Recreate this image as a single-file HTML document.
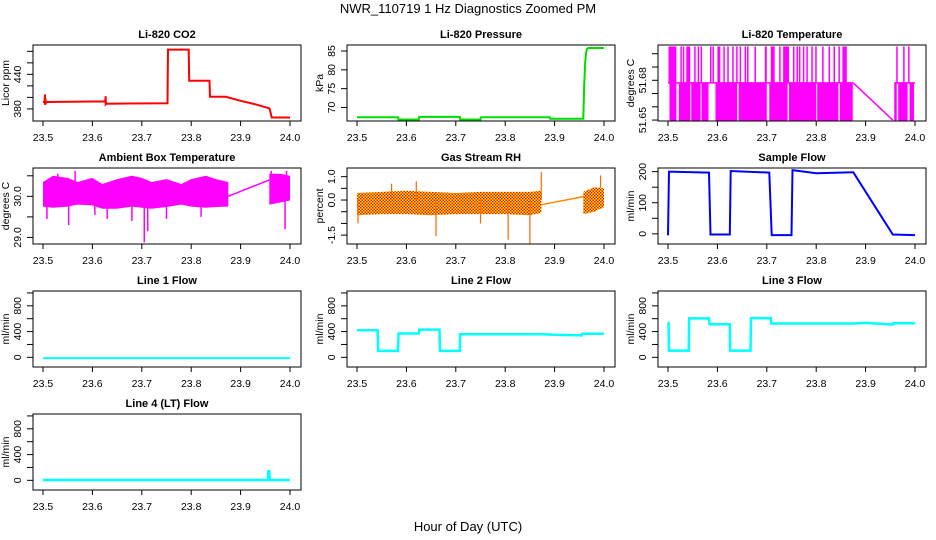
<!DOCTYPE html>
<html><head><meta charset="utf-8">
<style>
html,body{margin:0;padding:0;background:#fff;}
svg{display:block;font-family:"Liberation Sans",Arial,sans-serif;}
.tk{font-size:10.5px;fill:#000;}
.ttl{font-size:11px;font-weight:bold;fill:#000;}
</style></head>
<body>
<svg id="fig" width="936" height="540" viewBox="0 0 936 540">
<rect x="0" y="0" width="936" height="540" fill="#fff"/>
<text x="468" y="13" text-anchor="middle" font-size="13">NWR_110719  1 Hz Diagnostics Zoomed PM</text>
<text x="468" y="531" text-anchor="middle" font-size="13">Hour of Day (UTC)</text>
</svg>
<script>
// ---- shared x axis ----
const xTicks = [23.5, 23.6, 23.7, 23.8, 23.9, 24.0];
const xTickLabels = ["23.5", "23.6", "23.7", "23.8", "23.9", "24.0"];

// ---- Li-820 CO2 ----
const co2Times = [23.5, 23.503, 23.504, 23.504, 23.505, 23.505, 23.506, 23.626, 23.627, 23.627, 23.629, 23.630, 23.752, 23.753, 23.795, 23.796, 23.837, 23.838, 23.870, 23.900, 23.930, 23.958, 23.960, 23.963, 24.0];
const co2Values = [392, 392, 405, 387, 398, 388, 392, 393, 402, 388, 390, 389, 390, 483, 483, 429, 429, 401, 401, 394, 388, 381, 376, 365, 365];

// ---- Li-820 Pressure ----
const presTimes = [23.5, 23.583, 23.584, 23.625, 23.626, 23.708, 23.709, 23.750, 23.751, 23.890, 23.891, 23.958, 23.960, 23.962, 23.964, 23.966, 23.968, 24.0];
const presValues = [67.4, 67.4, 66.8, 66.8, 67.5, 67.5, 66.8, 66.8, 67.4, 67.4, 67.0, 67.0, 76.0, 82.0, 84.8, 85.6, 85.8, 85.8];

// ---- Li-820 Temperature (quantised levels) ----
const tempLevels = [51.649, 51.678, 51.7055];
const tempLowBlocks = [[23.503,23.517],[23.522,23.545],[23.547,23.566],[23.568,23.582],[23.596,23.640],[23.643,23.700],[23.705,23.742],[23.745,23.800],[23.802,23.845],[23.848,23.874],[23.958,23.963],[23.966,23.985],[23.989,23.998]];
const tempHighBlocks = [[23.501,23.517],[23.525,23.527],[23.530,23.533],[23.537,23.545],[23.553,23.556],[23.560,23.561],[23.566,23.569],[23.585,23.586],[23.590,23.592],[23.600,23.606],[23.612,23.613],[23.620,23.622],[23.630,23.633],[23.638,23.639],[23.645,23.647],[23.655,23.656],[23.660,23.663],[23.675,23.676],[23.696,23.700],[23.708,23.716],[23.725,23.728],[23.733,23.745],[23.753,23.755],[23.760,23.761],[23.765,23.768],[23.773,23.774],[23.780,23.782],[23.790,23.791],[23.798,23.800],[23.812,23.813],[23.825,23.827],[23.835,23.836],[23.845,23.848],[23.853,23.862],[23.962,23.965],[23.976,23.977],[23.986,23.988]];
const tempRampTimes = [23.875, 23.955];
const tempRampValues = [51.678, 51.650];

// ---- Ambient Box Temperature ----
const ambBandTimes = [23.5, 23.52, 23.55, 23.57, 23.6, 23.62, 23.65, 23.68, 23.7, 23.72, 23.75, 23.78, 23.8, 23.83, 23.85, 23.875];
const ambBandHigh = [30.35, 30.5, 30.45, 30.35, 30.45, 30.3, 30.42, 30.5, 30.45, 30.35, 30.42, 30.3, 30.42, 30.5, 30.42, 30.35];
const ambBandLow = [29.75, 29.72, 29.75, 29.8, 29.78, 29.7, 29.70, 29.75, 29.72, 29.7, 29.74, 29.8, 29.75, 29.72, 29.74, 29.75];
const ambSpikeTimes = [23.508, 23.552, 23.565, 23.605, 23.630, 23.680, 23.705, 23.712, 23.750, 23.820, 23.530, 23.990, 23.962, 23.993];
const ambSpikeValues = [29.45, 29.30, 30.62, 29.55, 29.45, 29.40, 28.88, 29.15, 29.45, 29.50, 30.55, 29.20, 30.62, 30.62];
const ambRampTimes = [23.875, 23.958];
const ambRampValues = [30.0, 30.40];
const amb2Times = [23.958, 23.98, 24.0];
const amb2High = [30.55, 30.55, 30.5];
const amb2Low = [29.8, 29.85, 29.9];

// ---- Gas Stream RH ----
const rhBandTimes = [23.5, 23.55, 23.6, 23.65, 23.7, 23.75, 23.8, 23.85, 23.873];
const rhBandHigh = [0.3, 0.35, 0.4, 0.35, 0.3, 0.35, 0.35, 0.35, 0.4];
const rhBandLow = [-0.65, -0.6, -0.6, -0.65, -0.6, -0.6, -0.6, -0.65, -0.55];
const rhSpikeTimes = [23.502, 23.570, 23.620, 23.660, 23.750, 23.806, 23.850, 23.873, 23.993];
const rhSpikeValues = [-1.0, 0.7, 0.8, -1.55, -1.0, -1.7, -1.9, 1.2, 1.05];
const rhRampTimes = [23.873, 23.960];
const rhRampValues = [-0.2, 0.15];
const rh2Times = [23.958, 23.98, 24.0];
const rh2High = [0.35, 0.55, 0.5];
const rh2Low = [-0.6, -0.5, -0.3];

// ---- Sample Flow ----
const sfTimes = [23.5, 23.502, 23.583, 23.586, 23.625, 23.627, 23.705, 23.710, 23.750, 23.752, 23.800, 23.875, 23.955, 24.0];
const sfValues = [-5, 200, 197, -2, -2, 202, 197, -4, -4, 205, 195, 198, -2, -4];

// ---- Line flows ----
const l1Times = [23.5, 24.0];
const l1Values = [-12, -12];
const l2Times = [23.5, 23.542, 23.543, 23.583, 23.584, 23.625, 23.626, 23.667, 23.668, 23.708, 23.709, 23.875, 23.900, 23.955, 23.956, 24.0];
const l2Values = [420, 420, 100, 100, 370, 370, 430, 430, 100, 100, 360, 360, 350, 340, 365, 365];
const l3Times = [23.5, 23.501, 23.502, 23.542, 23.543, 23.583, 23.584, 23.625, 23.626, 23.667, 23.668, 23.708, 23.709, 23.875, 23.900, 23.955, 23.956, 24.0];
const l3Values = [540, 540, 105, 105, 605, 605, 515, 515, 105, 105, 610, 610, 525, 525, 535, 510, 530, 530];
const l4Times = [23.5, 23.955, 23.956, 23.958, 23.959, 24.0];
const l4Values = [5, 5, 140, 140, 5, 5];

const flowTicks = [0, 200, 400, 600, 800, 1000];
const flowLabels = ["0", "", "400", "", "800", ""];

const svg = document.getElementById('fig');
const NS = 'http://www.w3.org/2000/svg';
function mk(tag, attrs, parent){
  const e = document.createElementNS(NS, tag);
  for (const k in attrs) e.setAttribute(k, attrs[k]);
  (parent || svg).appendChild(e);
  return e;
}

const colX = [33, 347, 658];
const rowY = [45, 168, 291, 414];
const PW = 268, PH = 76;

function makePanel(name, col, row, ymin, ymax, yTicks, yLabels, title, ylab){
  const x0 = colX[col], y0 = rowY[row];
  const g = mk('g', {});
  
  
  const xs = t => x0 + 10 + (t - 23.5) / 0.5 * (PW - 21);
  const ys = v => y0 + PH - (v - ymin) / (ymax - ymin) * PH;
  const plot = mk('g', {}, g);
  
  
  const t = mk('text', {x: x0 + PW/2, y: y0 - 7, 'text-anchor': 'middle', class: 'ttl'}, g);
  t.textContent = title;
  
  
  const xa = mk('g', {}, g);
  
  
  mk('line', {x1: xs(xTicks[0]), x2: xs(xTicks[xTicks.length-1]), y1: y0+PH, y2: y0+PH, stroke: '#000'}, xa);
  xTicks.forEach((v, i) => {
    mk('line', {x1: xs(v), x2: xs(v), y1: y0+PH, y2: y0+PH+5, stroke: '#000'}, xa);
    const l = mk('text', {x: xs(v), y: y0+PH+20, 'text-anchor': 'middle', class: 'tk'}, xa);
    l.textContent = xTickLabels[i];
  });
  const ya = mk('g', {}, g);
  
  
  yTicks.forEach((v, i) => {
    const yy = ys(v);
    mk('line', {x1: x0-6, x2: x0, y1: yy, y2: yy, stroke: '#000'}, ya);
    if (yLabels[i]) {
      const l = mk('text', {x: x0-12, y: yy, 'text-anchor': 'middle', class: 'tk', transform: `rotate(-90 ${x0-12} ${yy})`}, ya);
      l.textContent = yLabels[i];
    }
  });
  const yl = mk('text', {x: x0-24, y: y0+PH/2, 'text-anchor': 'middle', class: 'tk', transform: `rotate(-90 ${x0-24} ${y0+PH/2})`}, ya);
  yl.textContent = ylab;
  
  
  const box = mk('rect', {x: x0, y: y0, width: PW, height: PH, fill: 'none', stroke: '#000'}, g);
  
  
  return {plot, xs, ys};
}
function line(p, ts, vs, color, w, name){
  const pts = ts.map((t, i) => p.xs(t).toFixed(1) + ',' + p.ys(vs[i]).toFixed(1)).join(' ');
  const e = mk('polyline', {points: pts, fill: 'none', stroke: color, 'stroke-width': w}, p.plot);
  
  
  return e;
}
function band(p, ts, hi, lo, fill, name){
  const top = ts.map((t, i) => p.xs(t).toFixed(1) + ',' + p.ys(hi[i]).toFixed(1));
  const bot = ts.map((t, i) => p.xs(t).toFixed(1) + ',' + p.ys(lo[i]).toFixed(1)).reverse();
  const e = mk('polygon', {points: top.concat(bot).join(' '), fill: fill}, p.plot);
  
  
}
function spikes(p, ts, vs, base, color, w, name){
  ts.forEach((t, i) => {
    const e = mk('line', {x1: p.xs(t), x2: p.xs(t), y1: p.ys(base), y2: p.ys(vs[i]), stroke: color, 'stroke-width': w}, p.plot);
    
    
  });
}

const defs = mk('defs', {});
const pat = mk('pattern', {id: 'rhpat', width: 3, height: 3, patternUnits: 'userSpaceOnUse'}, defs);
mk('rect', {x: 0, y: 0, width: 3, height: 3, fill: '#ffff00'}, pat);
mk('rect', {x: 0, y: 0, width: 1.5, height: 1.5, fill: '#ff0000'}, pat);
mk('rect', {x: 1.5, y: 1.5, width: 1.5, height: 1.5, fill: '#ff0000'}, pat);

let p = makePanel('co2', 0, 0, 359, 491, [380,400,420,440,460,480], ["380","","","440","",""], 'Li-820 CO2', 'Licor ppm');
line(p, co2Times, co2Values, '#ff0000', 2, 'co2-line');

p = makePanel('pressure', 1, 0, 66.4, 86.6, [70,75,80,85], ["70","75","80","85"], 'Li-820 Pressure', 'kPa');
line(p, presTimes, presValues, '#00dd00', 2, 'pressure-line');

p = makePanel('li820-temp', 2, 0, 51.6493, 51.7066, [51.65,51.66,51.67,51.68,51.69,51.70], ["51.65","","","51.68","",""], 'Li-820 Temperature', 'degrees C');
line(p, [23.5, 23.875], [tempLevels[1], tempLevels[1]], '#ff00ff', 1.5, 'li820-temp-mid');
tempLowBlocks.forEach(b => {
  const r = mk('rect', {x: p.xs(b[0]), y: p.ys(tempLevels[1]), width: Math.max(1.5, p.xs(b[1]) - p.xs(b[0])), height: p.ys(tempLevels[0]) - p.ys(tempLevels[1]), fill: '#ff00ff'}, p.plot);
  
  
});
tempHighBlocks.forEach(b => {
  const r = mk('rect', {x: p.xs(b[0]), y: p.ys(tempLevels[2]), width: Math.max(1.5, p.xs(b[1]) - p.xs(b[0])), height: p.ys(tempLevels[1]) - p.ys(tempLevels[2]), fill: '#ff00ff'}, p.plot);
  
  
});
line(p, tempRampTimes, tempRampValues, '#ff00ff', 1.5, 'li820-temp-ramp');
line(p, [23.958, 24.0], [tempLevels[1], tempLevels[1]], '#ff00ff', 1.5, 'li820-temp-mid-2');

p = makePanel('ambient-temp', 0, 1, 28.84, 30.69, [29.0,29.5,30.0,30.5], ["29.0","","30.0",""], 'Ambient Box Temperature', 'degrees C');
band(p, ambBandTimes, ambBandHigh, ambBandLow, '#ff00ff', 'ambient-temp-band');
spikes(p, ambSpikeTimes, ambSpikeValues, 30.0, '#ff00ff', 1.5, 'ambient-temp-spike');
line(p, ambRampTimes, ambRampValues, '#ff00ff', 1.5, 'ambient-temp-ramp');
band(p, amb2Times, amb2High, amb2Low, '#ff00ff', 'ambient-temp-band-2');

p = makePanel('gas-rh', 1, 1, -1.88, 1.37, [-1.5,-1.0,-0.5,0.0,0.5,1.0], ["-1.5","","","0.0","","1.0"], 'Gas Stream RH', 'percent');
band(p, rhBandTimes, rhBandHigh, rhBandLow, 'url(#rhpat)', 'gas-rh-band');
spikes(p, rhSpikeTimes, rhSpikeValues, 0.0, '#ff6600', 1.2, 'gas-rh-spike');
line(p, rhRampTimes, rhRampValues, '#ff8800', 1.5, 'gas-rh-ramp');
band(p, rh2Times, rh2High, rh2Low, 'url(#rhpat)', 'gas-rh-band-2');

p = makePanel('sample-flow', 2, 1, -32.7, 211.7, [0,50,100,150,200], ["0","","100","","200"], 'Sample Flow', 'ml/min');
line(p, sfTimes, sfValues, '#0000ff', 2, 'sample-flow-line');

p = makePanel('line1-flow', 0, 2, -150, 1030, flowTicks, flowLabels, 'Line 1 Flow', 'ml/min');
line(p, l1Times, l1Values, '#00ffff', 2, 'line1-flow-line');
p = makePanel('line2-flow', 1, 2, -150, 1030, flowTicks, flowLabels, 'Line 2 Flow', 'ml/min');
line(p, l2Times, l2Values, '#00ffff', 2.5, 'line2-flow-line');
p = makePanel('line3-flow', 2, 2, -150, 1030, flowTicks, flowLabels, 'Line 3 Flow', 'ml/min');
line(p, l3Times, l3Values, '#00ffff', 2.5, 'line3-flow-line');
p = makePanel('line4-flow', 0, 3, -150, 1030, flowTicks, flowLabels, 'Line 4 (LT) Flow', 'ml/min');
line(p, l4Times, l4Values, '#00ffff', 2.5, 'line4-flow-line');
</script>
</body></html>
